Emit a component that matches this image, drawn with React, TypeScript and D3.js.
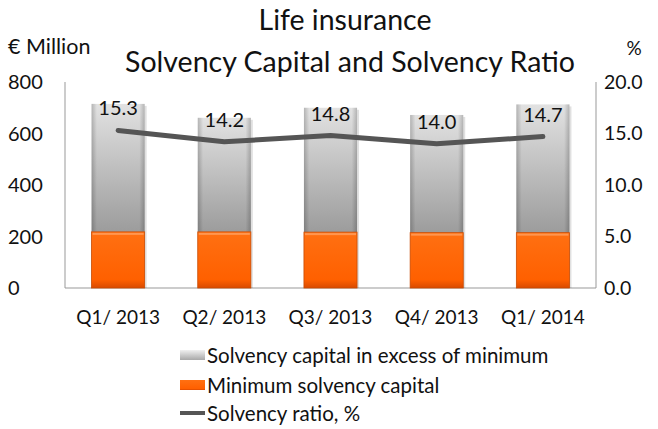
import React from 'react';
import * as d3 from 'd3';

const quarters = ['Q1/ 2013', 'Q2/ 2013', 'Q3/ 2013', 'Q4/ 2013', 'Q1/ 2014'];
const minimumCapital = [218, 218, 217, 215, 215];
const excessCapital = [497, 443, 483, 457, 498];
const solvencyRatio = [15.3, 14.2, 14.8, 14.0, 14.7];
const leftTicks = [0, 200, 400, 600, 800];
const rightTicks = [0, 5, 10, 15, 20];

const W = 658;
const H = 429;
const margin = { left: 65, right: 62, top: 82, bottom: 141 };
const font = 'Lato, "Open Sans", sans-serif';
const ink = '#111';

const App = () => {
  const x = d3
    .scaleBand()
    .domain(quarters)
    .range([margin.left, W - margin.right])
    .paddingInner(0.5)
    .paddingOuter(0.25);
  const y = d3.scaleLinear().domain([0, 800]).range([H - margin.bottom, margin.top]);
  const yr = d3.scaleLinear().domain([0, 20]).range([H - margin.bottom, margin.top]);

  const line = d3
    .line<number>()
    .x((d, i) => x(quarters[i])! + x.bandwidth() / 2)
    .y(d => yr(d));

  const bw = x.bandwidth();
  const base = y(0);

  return (
    <svg width={W} height={H} style={{ position: 'absolute', left: 0, top: 0 }}>
      <defs>
        <linearGradient id="gray" x1="0" y1="0" x2="0" y2="1">
          <stop offset="0" stopColor="#e2e2e2" />
          <stop offset="1" stopColor="#9c9c9c" />
        </linearGradient>
        <linearGradient id="grayEdge" x1="0" y1="0" x2="1" y2="0">
          <stop offset="0" stopColor="#000" stopOpacity="0.2" />
          <stop offset="0.1" stopColor="#000" stopOpacity="0" />
          <stop offset="0.9" stopColor="#000" stopOpacity="0" />
          <stop offset="1" stopColor="#000" stopOpacity="0.2" />
        </linearGradient>
        <linearGradient id="orange" x1="0" y1="0" x2="0" y2="1">
          <stop offset="0" stopColor="#ff7012" />
          <stop offset="0.85" stopColor="#ff6000" />
          <stop offset="1" stopColor="#d94a00" />
        </linearGradient>
        <linearGradient id="legGray" x1="0" y1="0" x2="0" y2="1">
          <stop offset="0" stopColor="#f0f0f0" />
          <stop offset="1" stopColor="#a8a8a8" />
        </linearGradient>
      </defs>
      <rect width={W} height={H} fill="#fff" />

      <text x={345} y={30} textAnchor="middle" fontFamily={font} fontSize={28.5} fill={ink}>
        Life insurance
      </text>
      <text x={350} y={72} textAnchor="middle" fontFamily={font} fontSize={28.5} fill={ink}>
        Solvency Capital and Solvency Ratio
      </text>
      <text x={8} y={54} fontFamily={font} fontSize={21.5} fill={ink}>
        € Million
      </text>
      <text x={634} y={55} textAnchor="middle" fontFamily={font} fontSize={19} fill={ink}>
        %
      </text>

      {/* axes */}
      <line x1={margin.left} x2={margin.left} y1={margin.top} y2={base} stroke="#999" />
      <line x1={W - margin.right} x2={W - margin.right} y1={margin.top} y2={base} stroke="#999" />
      <line x1={margin.left} x2={W - margin.right} y1={base} y2={base} stroke="#999" />

      {leftTicks.map(t => (
        <text key={t} x={8} y={y(t)} dy="0.35em" fontFamily={font} fontSize={20} fill={ink}>
          {t}
        </text>
      ))}
      {rightTicks.map(t => (
        <text key={t} x={604} y={yr(t)} dy="0.35em" fontFamily={font} fontSize={19.5} fill={ink}>
          {d3.format('.1f')(t)}
        </text>
      ))}

      {quarters.map((q, i) => {
        const x0 = x(q)!;
        const top = y(minimumCapital[i] + excessCapital[i]);
        const mid = y(minimumCapital[i]);
        return (
          <g key={q}>
            <rect x={x0 + 2} y={top + 2} width={bw} height={base - top - 2} fill="#000" opacity={0.12} />
            <rect x={x0} y={top} width={bw} height={mid - top} fill="url(#gray)" />
            <rect x={x0} y={top} width={bw} height={mid - top} fill="url(#grayEdge)" />
            <rect x={x0} y={mid} width={bw} height={base - mid} fill="url(#orange)" stroke="#c84a00" strokeWidth={0.8} />
            <rect x={x0 + 1} y={mid + 1} width={bw - 2} height={2} fill="#ffa060" opacity={0.8} />
            <text x={x0 + bw / 2} y={base + 36} textAnchor="middle" fontFamily={font} fontSize={19} fill={ink}>
              {q}
            </text>
          </g>
        );
      })}

      <path d={line(solvencyRatio)!} fill="none" stroke="#555" strokeWidth={5} strokeLinejoin="round" strokeLinecap="round" />
      {solvencyRatio.map((v, i) => (
        <text
          key={i}
          x={x(quarters[i])! + bw / 2}
          y={yr(v) - 22}
          dy="0.35em"
          textAnchor="middle"
          fontFamily={font}
          fontSize={20}
          fill={ink}
        >
          {d3.format('.1f')(v)}
        </text>
      ))}

      {/* legend */}
      <g fontFamily={font} fontSize={20.5} fill={ink}>
        <rect x={180} y={350} width={25} height={10} fill="url(#legGray)" />
        <text x={207} y={356} dy="0.35em">Solvency capital in excess of minimum</text>
        <rect x={180} y={380} width={25} height={10} fill="url(#orange)" />
        <text x={207} y={386} dy="0.35em">Minimum solvency capital</text>
        <line x1={180} x2={205} y1={413} y2={413} stroke="#555" strokeWidth={4} />
        <text x={207} y={414} dy="0.35em">Solvency ratio, %</text>
      </g>
    </svg>
  );
};

export default App;
